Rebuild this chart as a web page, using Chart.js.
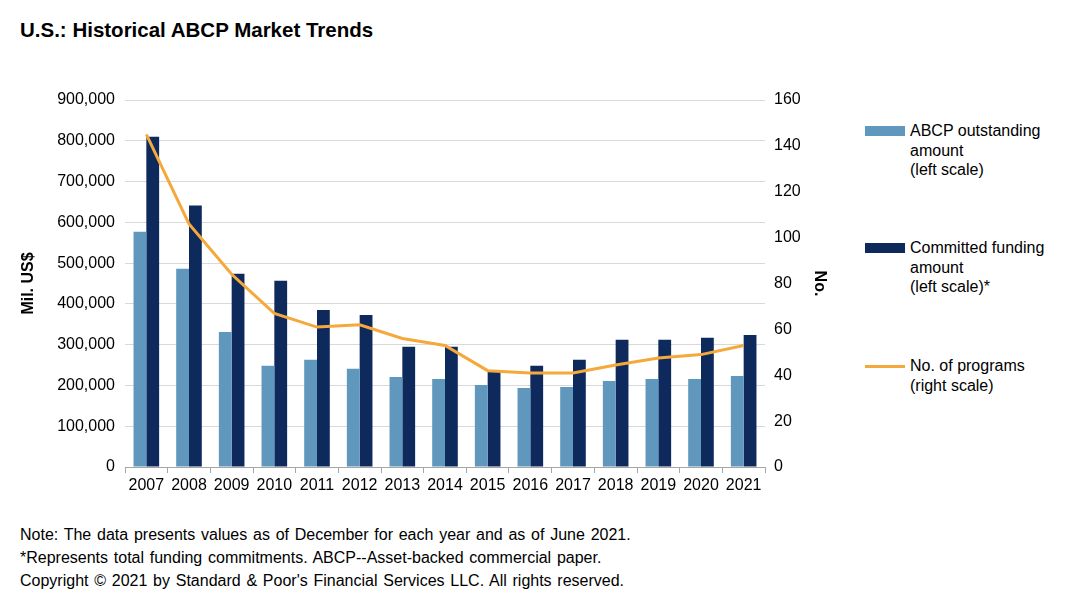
<!DOCTYPE html>
<html>
<head>
<meta charset="utf-8">
<script src="https://cdn.jsdelivr.net/npm/chart.js@4"></script>
<style>
    body { margin: 0; width: 1068px; height: 614px; background: #fff; font-family: "Liberation Sans", Arial, sans-serif; color: #000; position: relative; overflow: hidden; }
    #title { position: absolute; left: 20px; top: 18px; font-size: 20.5px; font-weight: bold; }
    #chartBox { position: absolute; left: 0; top: 80px; width: 850px; height: 417px; }
    .legend { position: absolute; left: 865px; font-size: 16px; line-height: 19.5px; }
    .legend .sw { position: absolute; left: 0; width: 40px; }
    .legend .txt { position: absolute; left: 45px; white-space: nowrap; }
    .note { position: absolute; left: 20px; font-size: 16px; white-space: nowrap; word-spacing: 1.3px; }
</style>
</head>
<body>
<div id="title">U.S.: Historical ABCP Market Trends</div>
<div id="chartBox"><canvas id="abcpChart"></canvas></div>
<div id="legend"></div>
<div class="note" style="top:526px">Note: The data presents values as of December for each year and as of June 2021.</div>
<div class="note" style="top:549px">*Represents total funding commitments. ABCP--Asset-backed commercial paper.</div>
<div class="note" style="top:572px">Copyright © 2021 by Standard &amp; Poor's Financial Services LLC. All rights reserved.</div>
<script>
const years = ['2007', '2008', '2009', '2010', '2011', '2012', '2013', '2014', '2015', '2016', '2017', '2018', '2019', '2020', '2021'];
const outstanding = [577000, 486000, 331000, 248000, 263000, 241000, 221000, 216000, 201000, 194000, 196000, 211000, 216000, 216000, 223000];
const committed = [810000, 641000, 474000, 457000, 385000, 373000, 295000, 295000, 238000, 248000, 263000, 312000, 312000, 317000, 324000];
const programs = [145, 106, 84, 67, 61, 62, 56, 53, 42, 41, 41, 44.5, 47.5, 49, 53];
const legendItems = [
    { text: ['ABCP outstanding', 'amount', '(left scale)'], color: '#5f97bd', top: 121, h: 10 },
    { text: ['Committed funding', 'amount', '(left scale)*'], color: '#0e2a5c', top: 238, h: 10 },
    { text: ['No. of programs', '(right scale)'], color: '#f5a93b', top: 356, h: 3 }
];

const tickFont = { family: '"Liberation Sans", Arial, sans-serif', size: 16 };

// legend drawn as html, it is a tall stacked one
let html = '';
legendItems.forEach(function (item) {
    html += '<div class="legend" style="top:' + item.top + 'px">' +
        '<div class="sw" style="top:' + (10 - item.h / 2) + 'px;height:' + item.h + 'px;background:' + item.color + '"></div>' +
        '<div class="txt">' + item.text.join('<br>') + '</div></div>';
});
document.getElementById('legend').innerHTML = html;

const ctx = document.getElementById('abcpChart').getContext('2d');
new Chart(ctx, {
    data: {
        labels: years,
        datasets: [{
            type: 'line',
            label: 'No. of programs',
            data: programs,
            yAxisID: 'y1',
            borderColor: '#f5a93b',
            borderWidth: 3,
            pointRadius: 0,
            tension: 0,
            order: 0
        }, {
            type: 'bar',
            label: 'ABCP outstanding amount',
            data: outstanding,
            yAxisID: 'y',
            backgroundColor: '#5f97bd',
            categoryPercentage: 0.6,
            barPercentage: 1.0,
            order: 1
        }, {
            type: 'bar',
            label: 'Committed funding amount',
            data: committed,
            yAxisID: 'y',
            backgroundColor: '#0e2a5c',
            categoryPercentage: 0.6,
            barPercentage: 1.0,
            order: 1
        }]
    },
    options: {
        responsive: true,
        maintainAspectRatio: false,
        animation: false,
        layout: { padding: { top: 20, left: 0, right: 0, bottom: 0 } },
        plugins: {
            legend: { display: false },
            tooltip: { enabled: false }
        },
        scales: {
            x: {
                grid: { drawOnChartArea: false, drawTicks: true, tickLength: 6, color: '#a6a6a6', offset: true },
                border: { color: '#a6a6a6' },
                ticks: { color: '#000', font: tickFont, padding: 3, maxRotation: 0 },
                afterFit: function (scale) { scale.height = 30; }
            },
            y: {
                position: 'left',
                min: 0,
                max: 900000,
                ticks: {
                    stepSize: 100000,
                    color: '#000',
                    font: tickFont,
                    padding: 10,
                    callback: function (v) { return v.toLocaleString('en-US'); }
                },
                grid: { color: '#d9d9d9', drawTicks: false },
                border: { display: false },
                title: { display: true, text: 'Mil. US$', color: '#000', font: { family: tickFont.family, size: 16, weight: 'bold' }, padding: { top: 19, bottom: 0 } },
                afterFit: function (scale) { scale.width = 125; }
            },
            y1: {
                position: 'right',
                min: 0,
                max: 160,
                ticks: { stepSize: 20, color: '#000', font: tickFont, padding: 9 },
                grid: { drawOnChartArea: false, drawTicks: false },
                border: { display: false },
                title: { display: true, text: 'No.', color: '#000', font: { family: tickFont.family, size: 16, weight: 'bold' }, padding: { top: 21, bottom: 0 } },
                afterFit: function (scale) { scale.width = 85; }
            }
        }
    }
});
</script>
</body>
</html>
